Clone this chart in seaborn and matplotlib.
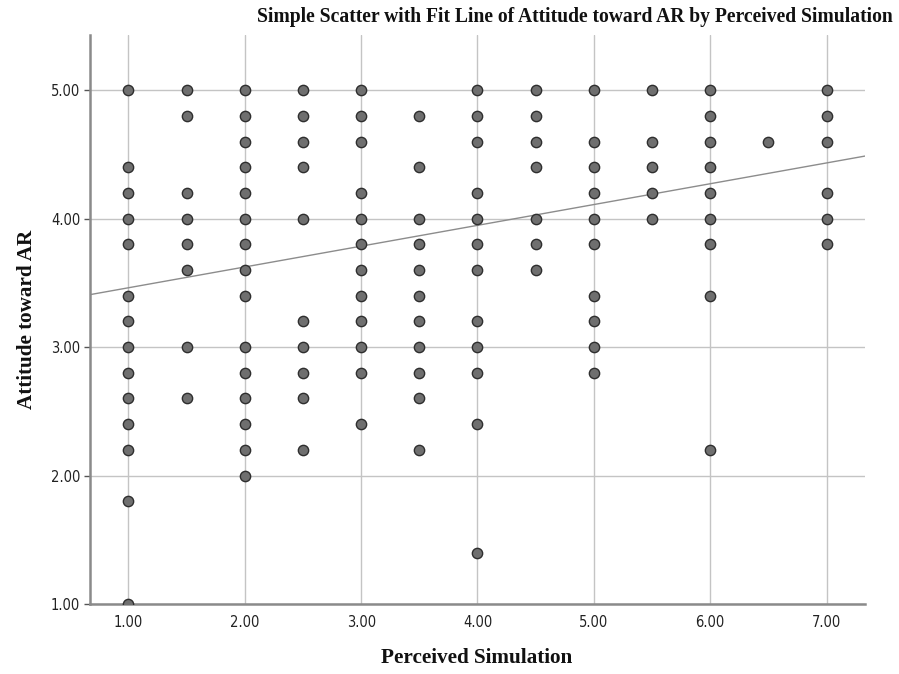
import numpy as np
import pandas as pd
import matplotlib
matplotlib.use("Agg")
import matplotlib.pyplot as plt
import seaborn as sns

# Perceived Simulation levels and the Attitude toward AR scores observed at each
sim_levels = [1.0, 1.5, 2.0, 2.5, 3.0, 3.5, 4.0, 4.5, 5.0, 5.5, 6.0, 6.5, 7.0]
att_at_1_0 = [5.0, 4.4, 4.2, 4.0, 3.8, 3.4, 3.2, 3.0, 2.8, 2.6, 2.4, 2.2, 1.8, 1.0]
att_at_1_5 = [5.0, 4.8, 4.2, 4.0, 3.8, 3.6, 3.0, 2.6]
att_at_2_0 = [5.0, 4.8, 4.6, 4.4, 4.2, 4.0, 3.8, 3.6, 3.4, 3.0, 2.8, 2.6, 2.4, 2.2, 2.0]
att_at_2_5 = [5.0, 4.8, 4.6, 4.4, 4.0, 3.2, 3.0, 2.8, 2.6, 2.2]
att_at_3_0 = [5.0, 4.8, 4.6, 4.2, 4.0, 3.8, 3.6, 3.4, 3.2, 3.0, 2.8, 2.4]
att_at_3_5 = [4.8, 4.4, 4.0, 3.8, 3.6, 3.4, 3.2, 3.0, 2.8, 2.6, 2.2]
att_at_4_0 = [5.0, 4.8, 4.6, 4.2, 4.0, 3.8, 3.6, 3.2, 3.0, 2.8, 2.4, 1.4]
att_at_4_5 = [5.0, 4.8, 4.6, 4.4, 4.0, 3.8, 3.6]
att_at_5_0 = [5.0, 4.6, 4.4, 4.2, 4.0, 3.8, 3.4, 3.2, 3.0, 2.8]
att_at_5_5 = [5.0, 4.6, 4.4, 4.2, 4.0]
att_at_6_0 = [5.0, 4.8, 4.6, 4.4, 4.2, 4.0, 3.8, 3.4, 2.2]
att_at_6_5 = [4.6]
att_at_7_0 = [5.0, 4.8, 4.6, 4.2, 4.0, 3.8]

# Linear fit: Attitude = intercept + slope * Simulation
fit_intercept = 3.30
fit_slope = 0.162

x_ticks = [1, 2, 3, 4, 5, 6, 7]
y_ticks = [1, 2, 3, 4, 5]

att_columns = [att_at_1_0, att_at_1_5, att_at_2_0, att_at_2_5, att_at_3_0,
               att_at_3_5, att_at_4_0, att_at_4_5, att_at_5_0, att_at_5_5,
               att_at_6_0, att_at_6_5, att_at_7_0]
df = pd.DataFrame({
    "sim": [lvl for lvl, col in zip(sim_levels, att_columns) for _ in col],
    "att": [v for col in att_columns for v in col],
})

sns.set_style("white")
serif = ["Liberation Serif", "DejaVu Serif"]
tickfont = ["DejaVu Sans"]

fig = plt.figure(figsize=(8.99, 6.74), dpi=100)
ax = fig.add_axes([90 / 899, 1 - 604 / 674, 775 / 899, 569 / 674])

xlim = (0.67, 7.33)
ylim = (1.0, 5.43)

# fit line across the full x range
fit_x = np.array(xlim)
fit_df = pd.DataFrame({"sim": fit_x, "att": fit_intercept + fit_slope * fit_x})
sns.lineplot(data=fit_df, x="sim", y="att", ax=ax, color="#8c8c8c",
             linewidth=1.0, zorder=2)

sns.scatterplot(data=df, x="sim", y="att", ax=ax, s=55,
                color="#6f6f6f", edgecolor="#2e2e2e", linewidth=1.0,
                zorder=3)

ax.set_xlim(*xlim)
ax.set_ylim(*ylim)
ax.set_xticks(x_ticks)
ax.set_yticks(y_ticks)
ax.set_xticklabels([f"{t:.2f}" for t in x_ticks], fontfamily=tickfont,
                   fontstretch="condensed", fontsize=10.5)
ax.set_yticklabels([f"{t:.2f}" for t in y_ticks], fontfamily=tickfont,
                   fontstretch="condensed", fontsize=10.5)

ax.grid(True, color="#c4c4c4", linewidth=1.0, zorder=0)
ax.set_axisbelow(True)
for side in ("top", "right"):
    ax.spines[side].set_visible(False)
for side in ("left", "bottom"):
    ax.spines[side].set_color("#8a8a8a")
    ax.spines[side].set_linewidth(1.8)
ax.tick_params(axis="x", length=0, pad=8, colors="#222222")
ax.tick_params(axis="y", length=4, width=1, color="#555555", pad=3, colors="#222222", left=True)

ax.set_xlabel("Perceived Simulation", fontfamily=serif, fontweight="bold",
              fontsize=15.2, color="#111111")
ax.set_ylabel("Attitude toward AR", fontfamily=serif, fontweight="bold",
              fontsize=15.2, color="#111111")
ax.xaxis.set_label_coords(0.4994, (604 - 648) / 569)
ax.yaxis.set_label_coords((37 - 90) / 775, 0.5)

fig.text(893 / 899, 1 - 17 / 674, "Simple Scatter with Fit Line of Attitude toward AR by Perceived Simulation",
         ha="right", va="center", fontfamily=serif, fontweight="bold",
         fontsize=14.1, color="#111111")

fig.savefig("out.png", dpi=100)
